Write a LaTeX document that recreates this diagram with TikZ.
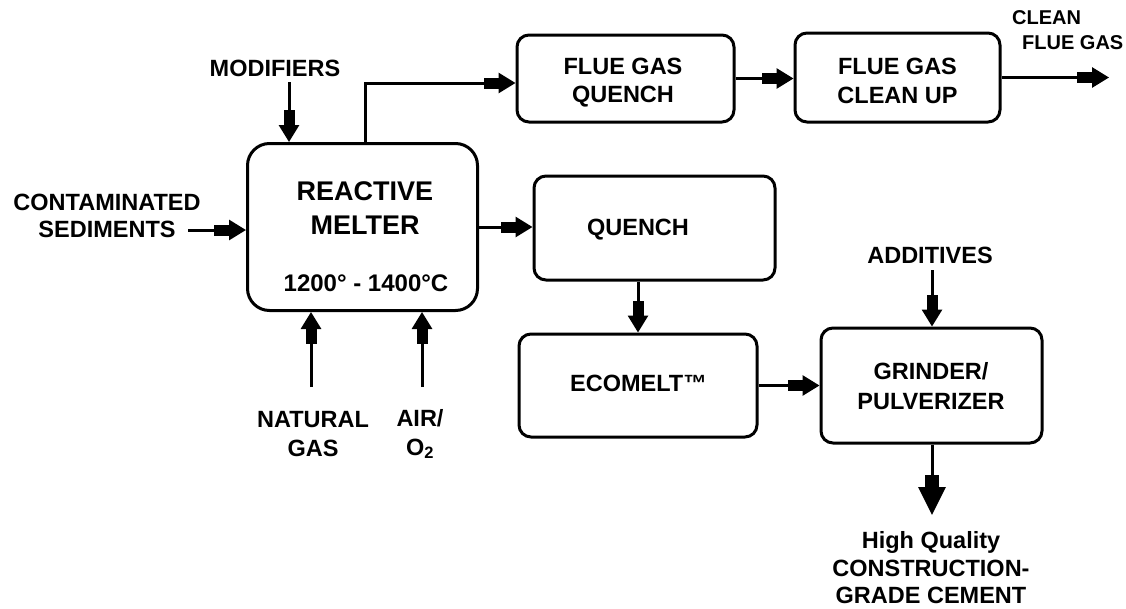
\documentclass[tikz,border=0pt]{standalone}
\usepackage{fontspec}
\setmainfont{Liberation Sans}
\usetikzlibrary{arrows.meta}
\begin{document}
\begin{tikzpicture}[x=1pt,y=-1pt,
  box/.style={draw, line width=3pt, rounded corners=12pt, inner sep=0pt},
  txt/.style={font=\bfseries\fontsize{23.5}{28.5}\selectfont, align=center, inner sep=0pt},
  flow/.style={line width=3pt, -{Rectangle[length=15pt,width=11pt,sep=0pt] Triangle[length=17pt,width=20pt]}},
  bigflow/.style={line width=3pt, -{Rectangle[length=12pt,width=14pt,sep=0pt] Triangle[length=28pt,width=27pt]}}]
\useasboundingbox (0,0) rectangle (1126,608);

% boxes
\node[box, rounded corners=22pt, minimum width=230pt, minimum height=167pt] (melter) at (362.5,227) {};
\node[box, minimum width=217pt, minimum height=87pt] (fgq) at (625.5,78.5) {};
\node[box, minimum width=205pt, minimum height=89pt] (cu) at (897.5,77.5) {};
\node[box, minimum width=241pt, minimum height=104pt] (quench) at (654.5,228) {};
\node[box, minimum width=238pt, minimum height=103pt] (eco) at (638,385.5) {};
\node[box, minimum width=221pt, minimum height=115pt] (grinder) at (931.5,385.5) {};

% box texts
\node[txt, font=\bfseries\fontsize{27}{34}\selectfont] (reactt) at (365,208) {REACTIVE\\MELTER};
\node[txt, font=\bfseries\fontsize{24}{28}\selectfont] (tempt) at (366,283) {1200° - 1400°C};
\node[txt] (fgqt) at (623,82.5) {FLUE GAS\\QUENCH};
\node[txt] (cut) at (897.5,81) {FLUE GAS\\CLEAN UP};
\node[txt] (quencht) at (638,230) {QUENCH};
\node[txt] (ecot) at (638.5,383) {ECOMELT™};
\node[txt, font=\bfseries\fontsize{23.5}{30}\selectfont] (grt) at (931,386) {GRINDER/\\PULVERIZER};

% outside labels
\node[txt] (mod) at (275,68) {MODIFIERS};
\node[txt, font=\bfseries\fontsize{23.5}{26.5}\selectfont] (sed) at (107,216) {CONTAMINATED\\SEDIMENTS};
\node[txt, font=\bfseries\fontsize{23.5}{29}\selectfont] (ng) at (313,434) {NATURAL\\GAS};
\node[txt, font=\bfseries\fontsize{23.5}{29}\selectfont] (air) at (420,434) {AIR/\\O\textsubscript{2}};
\node[txt] (add) at (930,255) {ADDITIVES};
\node[txt, font=\bfseries\fontsize{23.5}{27.5}\selectfont] (hq) at (931,568) {High Quality\\CONSTRUCTION-\\GRADE CEMENT};
\node[txt, font=\bfseries\fontsize{20}{25}\selectfont, align=left, anchor=west] (clean) at (1012,30) {CLEAN\\\hspace*{10pt}FLUE GAS};

% connector end points
\coordinate (sedin) at (188,230);
\coordinate (modin) at (289,82);
\coordinate (ngin) at (311,387);
\coordinate (airin) at (422,387);
\coordinate (flue) at (365,83);
\coordinate (cout) at (1109,77.5);
\coordinate (addin) at (932,270);
\coordinate (gout) at (932,515);

% connectors
\draw[flow] (sedin) -- (sedin -| melter.west);
\draw[flow] (modin) -- (modin |- melter.north);
\draw[flow] (ngin) -- (ngin |- melter.south);
\draw[flow] (airin) -- (airin |- melter.south);
\draw[flow] (flue |- melter.north) |- (flue -| fgq.west);
\draw[flow] (fgq.east) -- (fgq.east -| cu.west);
\draw[flow] (cu.east) -- (cout);
\draw[flow] (melter.east) -- (melter.east -| quench.west);
\draw[flow] (eco.north |- quench.south) -- (eco.north);
\draw[flow] (eco.east) -- (eco.east -| grinder.west);
\draw[flow] (addin) -- (addin |- grinder.north);
\draw[bigflow] (gout |- grinder.south) -- (gout);
\end{tikzpicture}
\end{document}
